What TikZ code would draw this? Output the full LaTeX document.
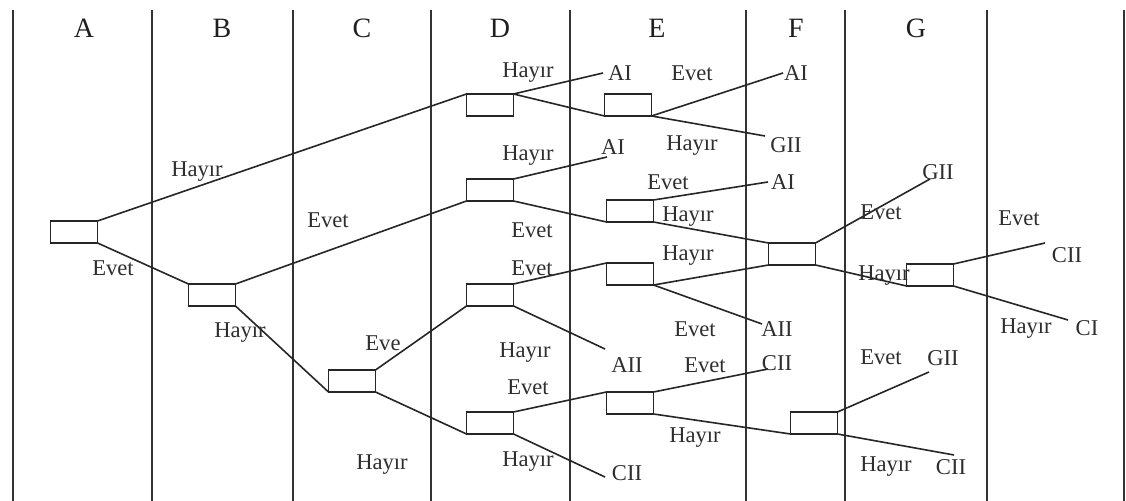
\documentclass[tikz,border=0pt]{standalone}
\usepackage{fontspec}
\setmainfont{Liberation Serif}
\begin{document}
\begin{tikzpicture}[x=0.5pt,y=-0.5pt,
  box/.style={draw=black!85,line width=0.85pt,minimum width=23.5pt,minimum height=11pt,inner sep=0pt,outer sep=0pt},
  lab/.style={inner sep=0pt,font=\fontsize{11.3}{12}\selectfont,text=black!82},
  head/.style={inner sep=0pt,font=\fontsize{14}{15}\selectfont,text=black!88},
  sep/.style={line width=1.05pt,black!80},
  link/.style={line width=0.8pt,black!85}]
\useasboundingbox (0,0) rectangle (1126,501);
% column separators
\foreach \x in {13,152,293,431,570,746,845,987,1124} \draw[sep] (\x,10) -- (\x,501);
% headers
\node[head] (hA) at (84,28) {A};
\node[head] (hB) at (222,28) {B};
\node[head] (hC) at (362,28) {C};
\node[head] (hD) at (500,28) {D};
\node[head] (hE) at (657,28) {E};
\node[head] (hF) at (796,28) {F};
\node[head] (hG) at (916,28) {G};
% boxes
\node[box] (bA) at (74,232) {};
\node[box] (bB) at (212,295) {};
\node[box] (bC) at (352,381) {};
\node[box] (bD1) at (490,105) {};
\node[box] (bD2) at (490,190) {};
\node[box] (bD3) at (490,295) {};
\node[box] (bD4) at (490,423) {};
\node[box] (bE1) at (628,105) {};
\node[box] (bE2) at (630,211) {};
\node[box] (bE3) at (630,274) {};
\node[box] (bE4) at (630,403) {};
\node[box] (bF) at (792,254) {};
\node[box] (bG1) at (930,275) {};
\node[box] (bG2) at (814,423) {};
% free ends
\coordinate (eD1a) at (603,73);
\coordinate (eE1a) at (783,73);
\coordinate (eE1b) at (765,136);
\coordinate (eD2a) at (607,157);
\coordinate (eE2a) at (768,182);
\coordinate (eFa) at (930,179);
\coordinate (eG1a) at (1045,243);
\coordinate (eG1b) at (1068,320);
\coordinate (eD3b) at (605,349);
\coordinate (eE3b) at (762,324);
\coordinate (eD4b) at (605,477);
\coordinate (eE4a) at (768,369);
\coordinate (eG2a) at (929,372);
\coordinate (eG2b) at (954,455);
% connectors
\draw[link] (bA.north east) -- (bD1.north west);
\draw[link] (bA.south east) -- (bB.north west);
\draw[link] (bB.north east) -- (bD2.south west);
\draw[link] (bB.south east) -- (bC.south west);
\draw[link] (bC.north east) -- (bD3.south west);
\draw[link] (bC.south east) -- (bD4.south west);
\draw[link] (bD1.north east) -- (eD1a);
\draw[link] (bD1.north east) -- (bE1.south west);
\draw[link] (bE1.south east) -- (eE1a);
\draw[link] (bE1.south east) -- (eE1b);
\draw[link] (bD2.north east) -- (eD2a);
\draw[link] (bD2.south east) -- (bE2.south west);
\draw[link] (bE2.north east) -- (eE2a);
\draw[link] (bE2.south east) -- (bF.north west);
\draw[link] (bF.north east) -- (eFa);
\draw[link] (bF.south east) -- (bG1.south west);
\draw[link] (bG1.north east) -- (eG1a);
\draw[link] (bG1.south east) -- (eG1b);
\draw[link] (bD3.north east) -- (bE3.north west);
\draw[link] (bD3.south east) -- (eD3b);
\draw[link] (bE3.south east) -- (bF.south west);
\draw[link] (bE3.south east) -- (eE3b);
\draw[link] (bD4.north east) -- (bE4.north west);
\draw[link] (bD4.south east) -- (eD4b);
\draw[link] (bE4.north east) -- (eE4a);
\draw[link] (bE4.south east) -- (bG2.south west);
\draw[link] (bG2.north east) -- (eG2a);
\draw[link] (bG2.south east) -- (eG2b);
% branch labels
\node[lab] (l1) at (197,172) {Hayır};
\node[lab] (l2) at (328,220) {Evet};
\node[lab] (l3) at (113,268) {Evet};
\node[lab] (l4) at (240,333) {Hayır};
\node[lab] (l5) at (383,343) {Eve};
\node[lab] (l6) at (382,465) {Hayır};
\node[lab] (l7) at (528,73) {Hayır};
\node[lab] (l8) at (692,73) {Evet};
\node[lab] (l9) at (528,156) {Hayır};
\node[lab] (l10) at (692,146) {Hayır};
\node[lab] (l11) at (668,182) {Evet};
\node[lab] (l12) at (688,217) {Hayır};
\node[lab] (l13) at (532,230) {Evet};
\node[lab] (l14) at (688,256) {Hayır};
\node[lab] (l15) at (532,268) {Evet};
\node[lab] (l16) at (695,329) {Evet};
\node[lab] (l17) at (525,353) {Hayır};
\node[lab] (l18) at (705,365) {Evet};
\node[lab] (l19) at (528,387) {Evet};
\node[lab] (l20) at (695,438) {Hayır};
\node[lab] (l21) at (528,462) {Hayır};
\node[lab] (l22) at (881,212) {Evet};
\node[lab] (l23) at (1019,218) {Evet};
\node[lab] (l24) at (884,276) {Hayır};
\node[lab] (l25) at (1026,329) {Hayır};
\node[lab] (l26) at (881,357) {Evet};
\node[lab] (l27) at (886,467) {Hayır};
% outcomes
\node[lab] (r1) at (620,73) {AI};
\node[lab] (r2) at (796,73) {AI};
\node[lab] (r3) at (786,145) {GII};
\node[lab] (r4) at (613,147) {AI};
\node[lab] (r5) at (783,182) {AI};
\node[lab] (r6) at (938,172) {GII};
\node[lab] (r7) at (1067,255) {CII};
\node[lab] (r8) at (1087,328) {CI};
\node[lab] (r9) at (627,365) {AII};
\node[lab] (r10) at (777,329) {AII};
\node[lab] (r11) at (627,473) {CII};
\node[lab] (r12) at (777,363) {CII};
\node[lab] (r13) at (943,358) {GII};
\node[lab] (r14) at (951,467) {CII};
\end{tikzpicture}
\end{document}
